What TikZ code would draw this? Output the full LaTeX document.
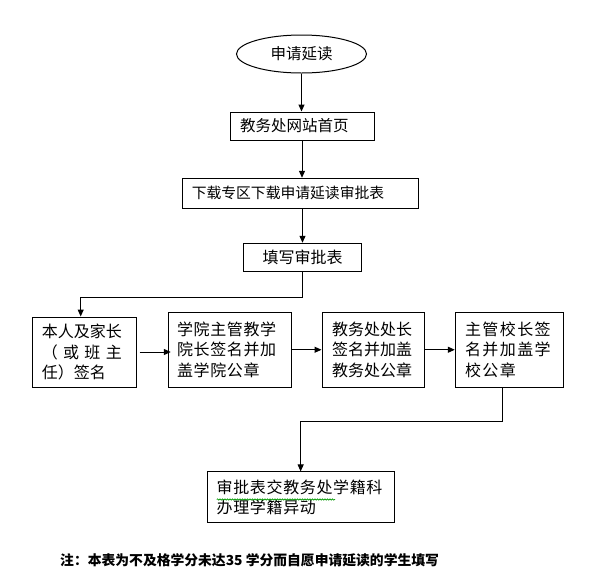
\documentclass[tikz,border=0pt]{standalone}
\usepackage{fontspec}
\setmainfont{Noto Sans CJK SC}
\usetikzlibrary{arrows.meta,shapes.geometric,decorations.pathmorphing}
\tikzset{
  box/.style={draw, line width=1pt, rectangle, inner ysep=0pt, align=left},
  arr/.style={line width=1pt, -{Triangle[length=7pt,width=6pt]}},
  ln/.style={line width=1pt},
  fA/.style={font=\fontsize{15.5}{18}\selectfont},
  fB/.style={font=\fontsize{16}{20.5}\selectfont},
}
\begin{document}
\begin{tikzpicture}[x=1pt,y=-1pt]
\useasboundingbox (0,0) rectangle (592,579);
% top column
\node[draw, line width=1pt, ellipse, minimum width=130pt, minimum height=38pt, inner sep=0pt, fA] (ell) at (301.5,54) {申请延读};
\node[box, fA, inner xsep=10pt, text width=124pt, minimum height=28pt] (b1) at (302,126) {教务处网站首页};
\node[box, font=\fontsize{14.8}{18}\selectfont, inner xsep=9.5pt, text width=217.7pt, minimum height=30pt] (b2) at (300.6,193.3) {下载专区下载申请延读审批表};
\node[box, font=\fontsize{16}{18}\selectfont, align=center, inner xsep=0pt, minimum width=118.4pt, minimum height=28.4pt] (b3) at (302.5,257.5) {填写审批表};
% middle row
\node[box, fB, inner xsep=9.4pt, text width=84.9pt, minimum height=70pt] (b4) at (84.2,352) {本人及家长\\\makebox[5em][s]{（\hfil 或\hfil 班\hfil 主}\\任）签名};
\node[box, font=\fontsize{16}{20.5}\selectfont\addfontfeature{LetterSpace=4}, inner xsep=8.7pt, text width=105.7pt, minimum height=74.5pt] (b5) at (229.85,349.75) {学院主管教学\\院长签名并加\\盖学院公章};
\node[box, fB, inner xsep=10pt, text width=82.7pt, minimum height=74.5pt] (b6) at (373.35,349.75) {教务处处长\\签名并加盖\\教务处公章};
\node[box, font=\fontsize{16}{20.5}\selectfont\addfontfeature{LetterSpace=9}, inner xsep=9.7pt, text width=88.9pt, minimum height=74.5pt] (b7) at (509.45,349.75) {主管校长签\\名并加盖学\\校公章};
% bottom
\node[box, font=\fontsize{16}{20}\selectfont\addfontfeature{LetterSpace=4}, inner xsep=9.4pt, text width=167.9pt, minimum height=50.7pt] (b8) at (300.65,497.3) {审批表交教务处学籍科\\办理学籍异动};
\draw[green!60!black, line width=0.6pt, decorate, decoration={snake, amplitude=0.7pt, segment length=2.5pt}] (216.7,499.5) -- (335,499.5);
% note
\node[anchor=west, inner sep=0pt, font=\bfseries\fontsize{13.8}{16}\selectfont] (note) at (60,560) {注：本表为不及格学分未达35 学分而自愿申请延读的学生填写};
% connectors
\coordinate (k1) at (80.7,297.5);
\coordinate (k2) at (502.5,421);
\draw[arr] (ell.south) -- (ell.south |- b1.north);
\draw[arr] (b1.south) -- (b1.south |- b2.north);
\draw[arr] (b3.north |- b2.south) -- (b3.north);
\draw[arr] (b3.south) |- (k1) -- (k1 |- b4.north);
\draw[arr] ([xshift=3pt]b4.east) -- ([xshift=3pt]b4.east -| b5.west);
\draw[arr] (b5.east) -- (b6.west);
\draw[arr] (b6.east) -- (b7.west);
\draw[arr] (k2 |- b7.south) -- (k2) -| (b8.north);
\end{tikzpicture}
\end{document}
